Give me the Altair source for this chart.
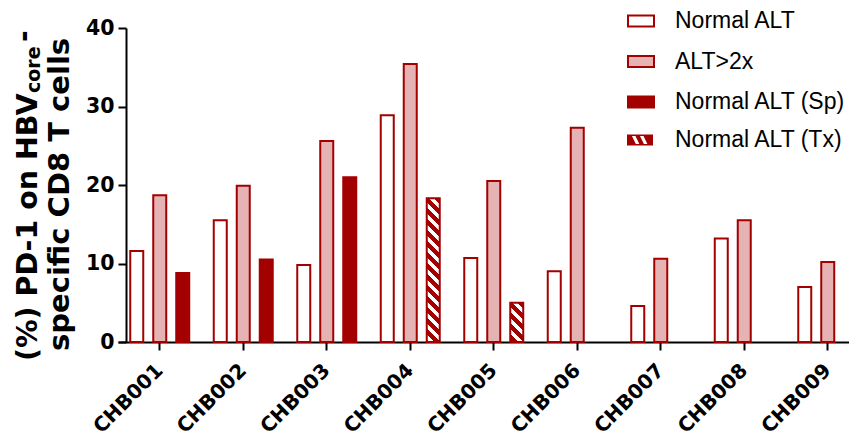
import altair as alt
import pandas as pd

# ---- data ----
patients = ["CHB001", "CHB002", "CHB003", "CHB004", "CHB005",
            "CHB006", "CHB007", "CHB008", "CHB009"]
normal_alt = [11.6, 15.5, 9.8, 28.9, 10.7, 9.0, 4.6, 13.2, 7.0]
alt_2x = [18.7, 19.9, 25.6, 35.4, 20.5, 27.3, 10.6, 15.5, 10.2]
sp_patients = ["CHB001", "CHB002", "CHB003"]
normal_sp = [8.8, 10.5, 21.0]
tx_patients = ["CHB004", "CHB005"]
normal_tx = [18.3, 5.0]

solid_series = ["Normal ALT", "ALT>2x", "Normal ALT (Sp)"]
tx_series = "Normal ALT (Tx)"
y_ticks = [0, 10, 20, 30, 40]

# ---- styling ----
DARK = "#a30000"
PINK = "#e6b3b5"
WHITE = "#ffffff"
solid_fill = [WHITE, PINK, DARK]
slot_of = {"Normal ALT": "a", "ALT>2x": "b",
           "Normal ALT (Sp)": "c", "Normal ALT (Tx)": "c"}

PLOT_W, PLOT_H = 723, 314
PX = PLOT_H / 40.0
BAR_W = 13.0
LEG_X, LEG_Y, ROW_PAD = 501, -21, 14.5

rows = []
for p, v in zip(patients, normal_alt):
    rows.append({"patient": p, "series": "Normal ALT", "value": v})
for p, v in zip(patients, alt_2x):
    rows.append({"patient": p, "series": "ALT>2x", "value": v})
for p, v in zip(sp_patients, normal_sp):
    rows.append({"patient": p, "series": "Normal ALT (Sp)", "value": v})
for p, v in zip(tx_patients, normal_tx):
    rows.append({"patient": p, "series": tx_series, "value": v})
df = pd.DataFrame(rows)
df["slot"] = df["series"].map(slot_of)

x_enc = alt.X("patient:N", sort=patients,
              scale=alt.Scale(range=[-8, 743.5], paddingInner=0, paddingOuter=0),
              axis=alt.Axis(title=None, labelAngle=-45, labelAlign="right",
                            labelBaseline="middle", labelPadding=17,
                            labelFont="DejaVu Sans", labelFontWeight="bold",
                            labelFontSize=20, labelColor="black", labelOverlap=False,
                            tickSize=8, tickWidth=2, tickColor="black",
                            domainWidth=2, domainColor="black", grid=False))
xo_enc = alt.XOffset("slot:N", scale=alt.Scale(domain=["a", "b", "c"],
                                                paddingInner=0.435, paddingOuter=0.533))
y_enc = alt.Y("value:Q", scale=alt.Scale(domain=[0, 40], nice=False),
              axis=alt.Axis(title=None, values=y_ticks, labelFont="DejaVu Sans",
                            labelFontWeight="bold", labelFontSize=20.5, labelColor="black",
                            labelPadding=4, tickSize=8, tickWidth=2, tickColor="black",
                            domainWidth=2, domainColor="black", grid=False))

legend_common = dict(title=None, orient="none", legendX=LEG_X, padding=0,
                     symbolSize=676, labelFont="Liberation Sans", labelFontSize=23,
                     labelColor="black", rowPadding=ROW_PAD, labelLimit=300)

bars = alt.Chart(df).transform_filter(alt.datum.series != tx_series).mark_bar(
    stroke=DARK, strokeWidth=2).encode(
    x=x_enc, xOffset=xo_enc, y=y_enc,
    fill=alt.Fill("series:N",
                  scale=alt.Scale(domain=solid_series, range=solid_fill),
                  legend=alt.Legend(legendY=LEG_Y, labelOffset=20,
                                    symbolType="M-1,-0.42L1,-0.42L1,0.42L-1,0.42Z",
                                    symbolStrokeColor=DARK, symbolStrokeWidth=2,
                                    **legend_common)),
)


def hatch(value):
    w = BAR_W
    h = value * PX
    L = w + h
    m = L / (w * w + h * h)
    period, dark_frac = 11.0, 0.55
    stops = []
    s = 0.0
    while s < L:
        a = s / L
        b = min((s + period * dark_frac) / L, 1.0)
        c = min((s + period) / L, 1.0)
        stops += [(a, DARK), (b, DARK), (b, WHITE), (c, WHITE)]
        s += period
    return alt.LinearGradient(gradient="linear", x1=1, y1=0, x2=1 - w * m, y2=h * m,
                              stops=[alt.GradientStop(offset=o, color=c) for o, c in stops])


layers = [bars]
for p, v in zip(tx_patients, normal_tx):
    layers.append(
        alt.Chart(df).transform_filter(
            (alt.datum.patient == p) & (alt.datum.series == tx_series)
        ).mark_bar(fill=hatch(v), stroke=DARK, strokeWidth=2).encode(
            x=x_enc, xOffset=xo_enc, y=y_enc)
    )

# legend entry for the hatched series: dark rectangle with two white slanted stripes
hatched_symbol = ("M-1,-0.42L1,-0.42L1,0.42L-1,0.42Z"
                  "M-0.62,-0.3L-0.32,0.3L-0.05,0.3L-0.35,-0.3Z"
                  "M0.0,-0.3L0.3,0.3L0.57,0.3L0.27,-0.3Z")
tx_legend_layer = alt.Chart(df).transform_filter("false").transform_calculate(
    group="datum.series").mark_point(filled=True, fill=DARK, opacity=1,
                                     strokeWidth=0).encode(
    x=x_enc, xOffset=xo_enc, y=y_enc,
    shape=alt.Shape("group:N",
                    scale=alt.Scale(domain=[tx_series], range=[hatched_symbol]),
                    legend=alt.Legend(legendY=LEG_Y + 3 * (26 + ROW_PAD) - 1.5,
                                      labelOffset=22, symbolFillColor=DARK,
                                      symbolOpacity=1, symbolStrokeWidth=0,
                                      **legend_common)),
)
layers.append(tx_legend_layer)


def title_piece(text, x, y, size):
    return alt.Chart(pd.DataFrame({"t": [text]})).mark_text(
        angle=270, align="left", baseline="alphabetic", font="DejaVu Sans",
        fontWeight="bold", fontSize=size, color="black"
    ).encode(x=alt.value(x), y=alt.value(y), text="t:N")


layers += [
    title_piece("(%) PD-1 on HBV", -89, 333, 28.5),
    title_piece("core", -86, 65, 19),
    title_piece("-", -93, 14, 28),
    title_piece("specific CD8 T cells", -57, 323, 29),
]

chart = alt.layer(*layers).properties(
    width=PLOT_W, height=PLOT_H,
    autosize=alt.AutoSizeParams(type="none"),
    padding={"left": 118, "top": 20, "right": 0, "bottom": 98},
).configure_view(stroke=None)

chart.save("out.html", embed_options={"renderer": "svg", "actions": False})
